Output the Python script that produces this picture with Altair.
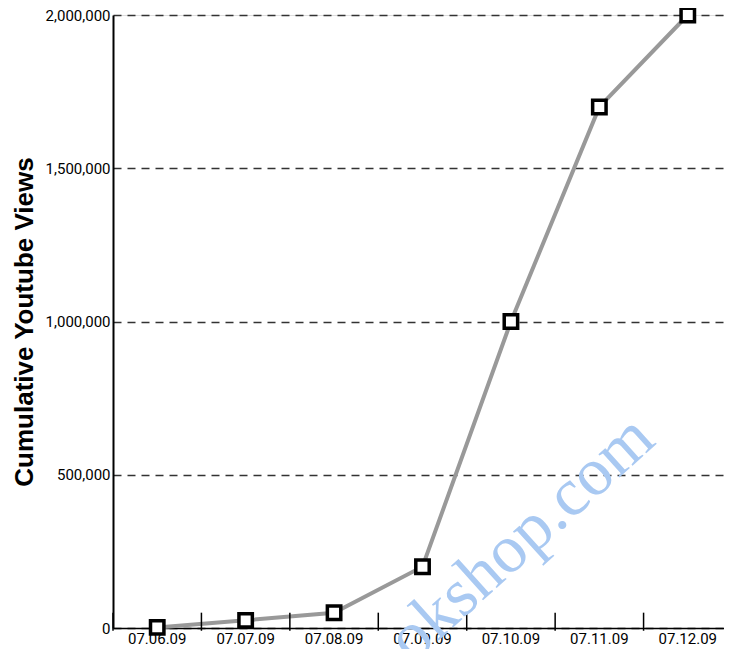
import altair as alt
import pandas as pd

dates = ["07.06.09", "07.07.09", "07.08.09", "07.09.09", "07.10.09", "07.11.09", "07.12.09"]
views = [2000, 25000, 50000, 200000, 1000000, 1700000, 2000000]

df = pd.DataFrame({"date": dates, "views": views})
ticks_df = pd.DataFrame({"date": dates})
wm_df = pd.DataFrame({"date": ["07.10.09"], "v": [260000], "t": ["okshop.com"]})

narrow = "Liberation Sans Narrow, Roboto, sans-serif"

xscale = alt.Scale(domain=dates, paddingInner=0, paddingOuter=0, range=[0, 619])
x = alt.X("date:N", sort=dates, title=None, scale=xscale,
          axis=alt.Axis(labelAngle=0, ticks=False, domainColor="black", domainWidth=1.5,
                        labelFont=narrow, labelFontSize=15, labelColor="black",
                        labelPadding=3, grid=False))
y = alt.Y("views:Q", title="Cumulative Youtube Views",
          scale=alt.Scale(domain=[0, 2000000], nice=False),
          axis=alt.Axis(values=[0, 500000, 1000000, 1500000, 2000000], format=",d",
                        ticks=False, domainColor="black", domainWidth=2,
                        labelFont=narrow, labelFontSize=15, labelColor="black",
                        labelPadding=3, grid=True, gridDash=[8, 6], gridColor="#333333",
                        gridWidth=1.5,
                        titleFont="Liberation Sans, Arial, sans-serif", titleFontSize=26,
                        titleFontWeight="bold", titleColor="black", titlePadding=8))

line = alt.Chart(df).mark_line(color="#999999", strokeWidth=4).encode(x=x, y=y)
pts = alt.Chart(df).mark_point(shape="square", size=180, filled=False, fill="white",
                               fillOpacity=1, stroke="black", strokeWidth=3.5, opacity=1).encode(x=x, y=y)

tk = alt.Chart(ticks_df).mark_rule(color="black", strokeWidth=1.5).encode(
    x=alt.X("date:N", sort=dates, bandPosition=0, scale=xscale),
    y=alt.datum(-9000), y2=alt.datum(50000))

wm = alt.Chart(wm_df).mark_text(font="Liberation Serif, DejaVu Serif, serif", fontSize=68,
                                color="#a9c9f2", angle=318, baseline="middle", dx=14).encode(
    x=alt.X("date:N", sort=dates, scale=xscale), y=alt.Y("v:Q"), text="t:N")

chart = alt.layer(line, tk, pts, wm).properties(
    width=611, height=613,
    padding={"left": 105, "top": 7, "right": 0, "bottom": 21},
    autosize=alt.AutoSizeParams(type="none"),
).configure_view(stroke=None, clip=False).configure(background="white")

chart.save("out.html", embed_options={"renderer": "svg", "actions": False})
